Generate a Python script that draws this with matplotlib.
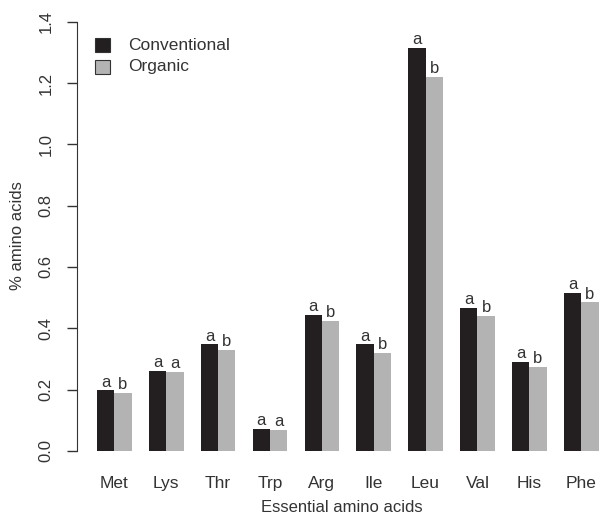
import numpy as np
import matplotlib.pyplot as plt
from matplotlib.patches import Rectangle

amino = ["Met", "Lys", "Thr", "Trp", "Arg", "Ile", "Leu", "Val", "His", "Phe"]
conventional = [0.197, 0.261, 0.347, 0.072, 0.444, 0.347, 1.314, 0.466, 0.290, 0.515]
organic = [0.190, 0.257, 0.330, 0.068, 0.425, 0.320, 1.220, 0.440, 0.275, 0.484]
conv_letters = ["a"] * 10
org_letters = ["b", "a", "b", "a", "b", "b", "b", "b", "b", "b"]

plt.rcParams['font.family'] = ['Liberation Sans', 'DejaVu Sans']

fig = plt.figure(figsize=(6.03, 5.2), dpi=100)
# R barplot style: each group = 2 bars of width 1 plus 1 space
ax = fig.add_axes([77 / 603, 52 / 520, 525 / 603, 463.5 / 520])

left = np.arange(len(amino)) * 3 + 1
ax.bar(left, conventional, width=1, align='edge', color='#231f20', linewidth=0)
ax.bar(left + 1, organic, width=1, align='edge', color='#b3b3b3', linewidth=0)

for x, v, t in zip(left + 0.5, conventional, conv_letters):
    ax.text(x, v + 0.002, t, ha='center', va='bottom', fontsize=12, color='#333333')
for x, v, t in zip(left + 1.5, organic, org_letters):
    ax.text(x, v + 0.002, t, ha='center', va='bottom', fontsize=12, color='#333333')

ax.set_xlim(-0.16, 30.2)
ax.set_ylim(-0.056, 1.456)

for s in ['top', 'right', 'bottom']:
    ax.spines[s].set_visible(False)
ax.spines['left'].set_bounds(0, 1.4)
ax.spines['left'].set_color('#333333')

yt = np.arange(0, 1.41, 0.2)
ax.set_yticks(yt)
ax.set_yticklabels([f"{v:.1f}" for v in yt], rotation=90, va='center', fontsize=12, color='#333333')
ax.tick_params(axis='y', length=7, width=1, color='#333333', pad=10)

ax.set_xticks(left + 1)
ax.set_xticklabels(amino, fontsize=12.5, color='#333333')
ax.tick_params(axis='x', length=0, pad=6)

ax.set_ylabel("% amino acids", fontsize=12, color='#333333', va='center')
ax.yaxis.set_label_coords(-59 / 525, (468 - 236) / 463.5)
ax.set_xlabel("Essential amino acids", fontsize=12, color='#333333', va='center')
ax.xaxis.set_label_coords((342 - 77) / 525, -(508 - 468) / 463.5)

# legend drawn R-style
for i, (lab, col) in enumerate([("Conventional", '#231f20'), ("Organic", '#b3b3b3')]):
    yc = 45 + i * 22
    fig.patches.append(Rectangle((95 / 603, 1 - (yc + 7) / 520), 15 / 603, 14 / 520,
                                 transform=fig.transFigure, facecolor=col,
                                 edgecolor='#333333', linewidth=0.8))
    fig.text(128 / 603, 1 - yc / 520, lab, fontsize=12.5, va='center', ha='left', color='#333333')

fig.savefig("out.png", dpi=100)
